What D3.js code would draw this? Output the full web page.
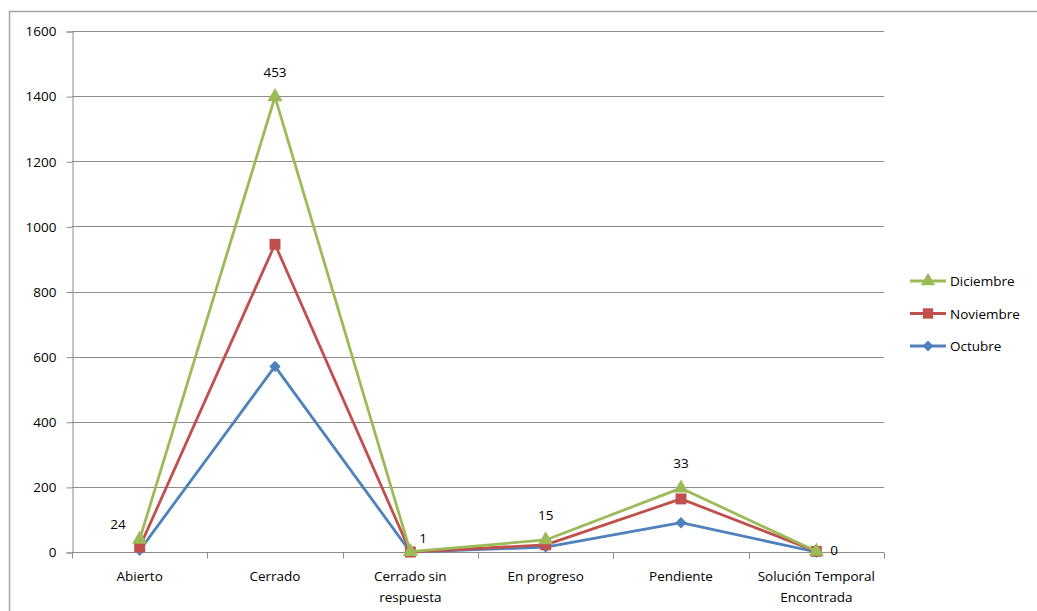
<!DOCTYPE html>
<html>
<head>
<meta charset="utf-8">
<script src="https://d3js.org/d3.v7.min.js"></script>
<style>
  body { margin: 0; background: #fff; }
  svg text { font-family: "Open Sans", "Noto Sans", sans-serif; font-size: 13.5px; fill: #000; }
</style>
</head>
<body>
<div id="chart"></div>
<script>
// categories and monthly counts (stacked line chart)
var categories = ["Abierto", "Cerrado", "Cerrado sin respuesta", "En progreso", "Pendiente", "Solución Temporal Encontrada"];
var octubre   = [5, 570, 0, 15, 90, 0];
var noviembre = [10, 375, 0, 7, 73, 2];
var diciembre = [24, 453, 1, 15, 33, 0];
var yTicks = [0, 200, 400, 600, 800, 1000, 1200, 1400, 1600];

// label placement for the Diciembre data labels
var labelSide = ["left", "above", "right", "above", "above", "right"];

var W = 1037, H = 611;
var margin = { left: 72, top: 31, right: 153, bottom: 59 };

var svg = d3.select("#chart").append("svg").attr("width", W).attr("height", H);

// outer chart border
svg.append("rect").attr("x", 9.5).attr("y", 11.5).attr("width", W + 20).attr("height", H + 20)
  .attr("fill", "none").attr("stroke", "#a6a6a6").attr("stroke-width", 1.5);

var x = d3.scaleBand().domain(categories).range([margin.left, W - margin.right]);
var y = d3.scaleLinear().domain([0, 1600]).range([H - margin.bottom, margin.top]);

var diamond = { draw: function (ctx, size) {
  var r = Math.sqrt(size) / 2;
  ctx.moveTo(0, -r); ctx.lineTo(r, 0); ctx.lineTo(0, r); ctx.lineTo(-r, 0); ctx.closePath();
} };

// stacking
var series = [
  { name: "Octubre", color: "#4F81BD", shape: diamond, size: 130, vals: octubre },
  { name: "Noviembre", color: "#C0504D", shape: d3.symbolSquare, size: 120, vals: noviembre },
  { name: "Diciembre", color: "#9BBB59", shape: d3.symbolTriangle, size: 100, vals: diciembre }
];
var cum = categories.map(function () { return 0; });
series.forEach(function (s) {
  s.stack = s.vals.map(function (v, i) { cum[i] += v; return cum[i]; });
});

// gridlines
svg.append("g").selectAll("line").data(yTicks.slice(1)).enter().append("line")
  .attr("x1", margin.left).attr("x2", W - margin.right)
  .attr("y1", function (d) { return Math.round(y(d)) + 0.5; })
  .attr("y2", function (d) { return Math.round(y(d)) + 0.5; })
  .attr("stroke", "#8c8c8c").attr("stroke-width", 1);

// y axis
var yAxis = svg.append("g").attr("transform", "translate(" + (margin.left + 0.5) + ",0.5)")
  .call(d3.axisLeft(y).tickValues(yTicks).tickFormat(d3.format("d")).tickSize(6).tickPadding(10));
yAxis.select(".domain").attr("stroke", "#8c8c8c");
yAxis.selectAll(".tick line").attr("stroke", "#8c8c8c");
yAxis.selectAll("text").style("font-size", "13.5px").style("font-family", null);

// x axis
var xAxis = svg.append("g").attr("transform", "translate(0," + (Math.round(y(0)) + 0.5) + ")");
xAxis.append("line").attr("x1", margin.left).attr("x2", W - margin.right)
  .attr("stroke", "#8c8c8c");
var edges = d3.range(categories.length + 1).map(function (i) { return margin.left + i * x.bandwidth(); });
xAxis.selectAll("line.tk").data(edges).enter().append("line").attr("class", "tk")
  .attr("x1", function (d) { return Math.round(d) + 0.5; })
  .attr("x2", function (d) { return Math.round(d) + 0.5; })
  .attr("y1", 0).attr("y2", 6).attr("stroke", "#8c8c8c");

var wrapped = {
  "Cerrado sin respuesta": ["Cerrado sin", "respuesta"],
  "Solución Temporal Encontrada": ["Solución Temporal", "Encontrada"]
};
categories.forEach(function (c) {
  var lines = wrapped[c] || [c];
  var t = xAxis.append("text").attr("text-anchor", "middle")
    .attr("x", x(c) + x.bandwidth() / 2).attr("y", 28);
  lines.forEach(function (l, i) {
    t.append("tspan").attr("x", x(c) + x.bandwidth() / 2).attr("dy", i === 0 ? 0 : 21).text(l);
  });
});

var cx = function (i) { return x(categories[i]) + x.bandwidth() / 2; };
var line = d3.line().x(function (d, i) { return cx(i); }).y(function (d) { return y(d); });

series.forEach(function (s) {
  var g = svg.append("g");
  g.append("path").datum(s.stack).attr("d", line)
    .attr("fill", "none").attr("stroke", s.color).attr("stroke-width", 2.8)
    .attr("stroke-linejoin", "round");
  g.selectAll("path.m").data(s.stack).enter().append("path").attr("class", "m")
    .attr("d", d3.symbol().type(s.shape).size(s.size))
    .attr("transform", function (d, i) { return "translate(" + cx(i) + "," + y(d) + ")"; })
    .attr("fill", s.color);
});

// data labels on Diciembre
var dic = series[2];
svg.append("g").selectAll("text").data(dic.vals).enter().append("text")
  .attr("x", function (d, i) {
    if (labelSide[i] === "left") return cx(i) - 14;
    if (labelSide[i] === "right") return cx(i) + (i === 5 ? 14 : 9);
    return cx(i);
  })
  .attr("y", function (d, i) {
    if (labelSide[i] === "above") return y(dic.stack[i]) - 20;
    if (labelSide[i] === "left") return y(dic.stack[i]) - 10;
    return y(dic.stack[i]) - (i === 5 ? -4 : 9);
  })
  .attr("text-anchor", function (d, i) {
    return labelSide[i] === "left" ? "end" : labelSide[i] === "right" ? "start" : "middle";
  })
  .text(function (d) { return d; });

// legend
var legend = svg.append("g").attr("transform", "translate(910,281)");
series.slice().reverse().forEach(function (s, i) {
  var g = legend.append("g").attr("transform", "translate(0," + (i * 32.5) + ")");
  g.append("line").attr("x1", 0).attr("x2", 36).attr("stroke", s.color).attr("stroke-width", 2.8);
  g.append("path").attr("d", d3.symbol().type(s.shape).size(s.size * 0.9))
    .attr("transform", "translate(18,0)").attr("fill", s.color);
  g.append("text").attr("x", 40).attr("y", 5).text(s.name);
});
</script>
</body>
</html>
